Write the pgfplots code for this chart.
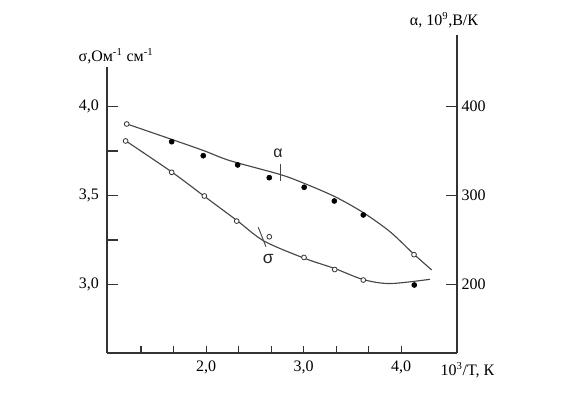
\documentclass[border=0pt]{standalone}
\usepackage{fontspec}
\setmainfont{Liberation Serif}
\newfontfamily\sansf{Liberation Sans}
\usepackage{pgfplots}
\pgfplotsset{compat=1.18}
\definecolor{axc}{HTML}{333333}
\definecolor{crv}{HTML}{474747}
\pgfplotsset{
  base/.style={scale only axis, width=262.5pt, xmin=0.983, xmax=4.572,
    at={(80.25pt,30pt)}, anchor=south west,
    axis line style={axc, line width=1pt},
    tick style={axc, line width=1pt},
    tick label style={font=\fontsize{12}{14}\selectfont},
    clip=false},
  curve/.style={crv, line width=0.85pt, smooth, no marks},
  openm/.style={only marks, mark=*, mark size=1.8pt, mark options={fill=white, draw=black!80, line width=0.6pt}},
  fullm/.style={only marks, mark=*, mark size=1.9pt, mark options={fill=black, draw=black}},
}
\begin{document}
\begin{tikzpicture}
\useasboundingbox (0,0) rectangle (438.75pt,294.75pt);
% x axis
\begin{axis}[base, height=214.7pt, ymin=0, ymax=1,
  axis x line*=bottom, axis y line=none, ytick=\empty,
  xtick={1.3333,1.6667,2,2.3333,2.6667,3,3.3333,3.6667,4},
  xticklabels={,,{2,0},,,{3,0},,,{4,0}},
  xtick pos=bottom, major tick length=5pt,
  xticklabel style={yshift=-2.5pt}]
\end{axis}
% sigma axis (left)
\begin{axis}[base, height=214.7pt, ymin=2.615, ymax=4.223,
  axis x line=none, axis y line*=left, xtick=\empty,
  ytick={3,3.25,3.5,3.75,4}, yticklabels={{3,0},,{3,5},,{4,0}},
  ytick pos=left, major tick length=8pt,
  yticklabel style={xshift=-2.5pt}]
\addplot[curve] coordinates {(1.177,3.806) (1.649,3.631) (1.977,3.497) (2.316,3.359) (2.593,3.244) (3.003,3.148) (3.321,3.089) (3.608,3.028) (3.885,3.005) (4.295,3.029)};
\addplot[openm] coordinates {(1.174,3.806) (1.646,3.630) (1.981,3.497) (2.313,3.356) (2.647,3.268) (3.003,3.152) (3.318,3.084) (3.611,3.025)};
\addplot[fullm] coordinates {(4.134,2.997)};
\draw[crv, line width=0.7pt] (axis cs:2.534,3.321) -- (axis cs:2.613,3.212);
\node[font=\sansf\fontsize{13}{15}\selectfont, text=black!85] at (axis cs:2.637,3.141) {σ};
\end{axis}
% alpha axis (right)
\begin{axis}[base, height=238.5pt, ymin=122.9, ymax=480.2,
  axis x line=none, axis y line*=right, xtick=\empty,
  ytick={200,300,400}, yticklabels={200,300,400},
  ytick pos=right, yticklabel pos=right, major tick length=8pt]
\addplot[curve] coordinates {(1.188,380.2) (1.649,362.8) (1.977,350.2) (2.244,339.0) (2.757,323.5) (3.003,313.6) (3.321,298.5) (3.608,280.8) (3.885,259.2) (4.131,233.8) (4.313,216.2)};
\addplot[fullm] coordinates {(1.646,360.3) (1.970,344.6) (2.323,334.2) (2.647,319.9) (3.005,309.1) (3.314,293.7) (3.611,278.0)};
\addplot[openm] coordinates {(1.185,380.2) (4.131,233.4)};
\draw[crv, line width=0.7pt] (axis cs:2.757,335.3) -- (axis cs:2.757,316.5);
\node[font=\sansf\fontsize{12}{14}\selectfont, text=black!85] at (axis cs:2.736,347.6) {α};
\end{axis}
\node[font=\fontsize{12}{14}\selectfont] at (87pt,252.75pt) {σ,Ом\textsuperscript{-1} см\textsuperscript{-1}};
\node[font=\fontsize{12}{14}\selectfont] at (333pt,279.75pt) {α, 10\textsuperscript{9},В/К};
\node[font=\fontsize{12}{14}\selectfont] at (350.6pt,17.25pt) {10\textsuperscript{3}/T, К};
\end{tikzpicture}
\end{document}
